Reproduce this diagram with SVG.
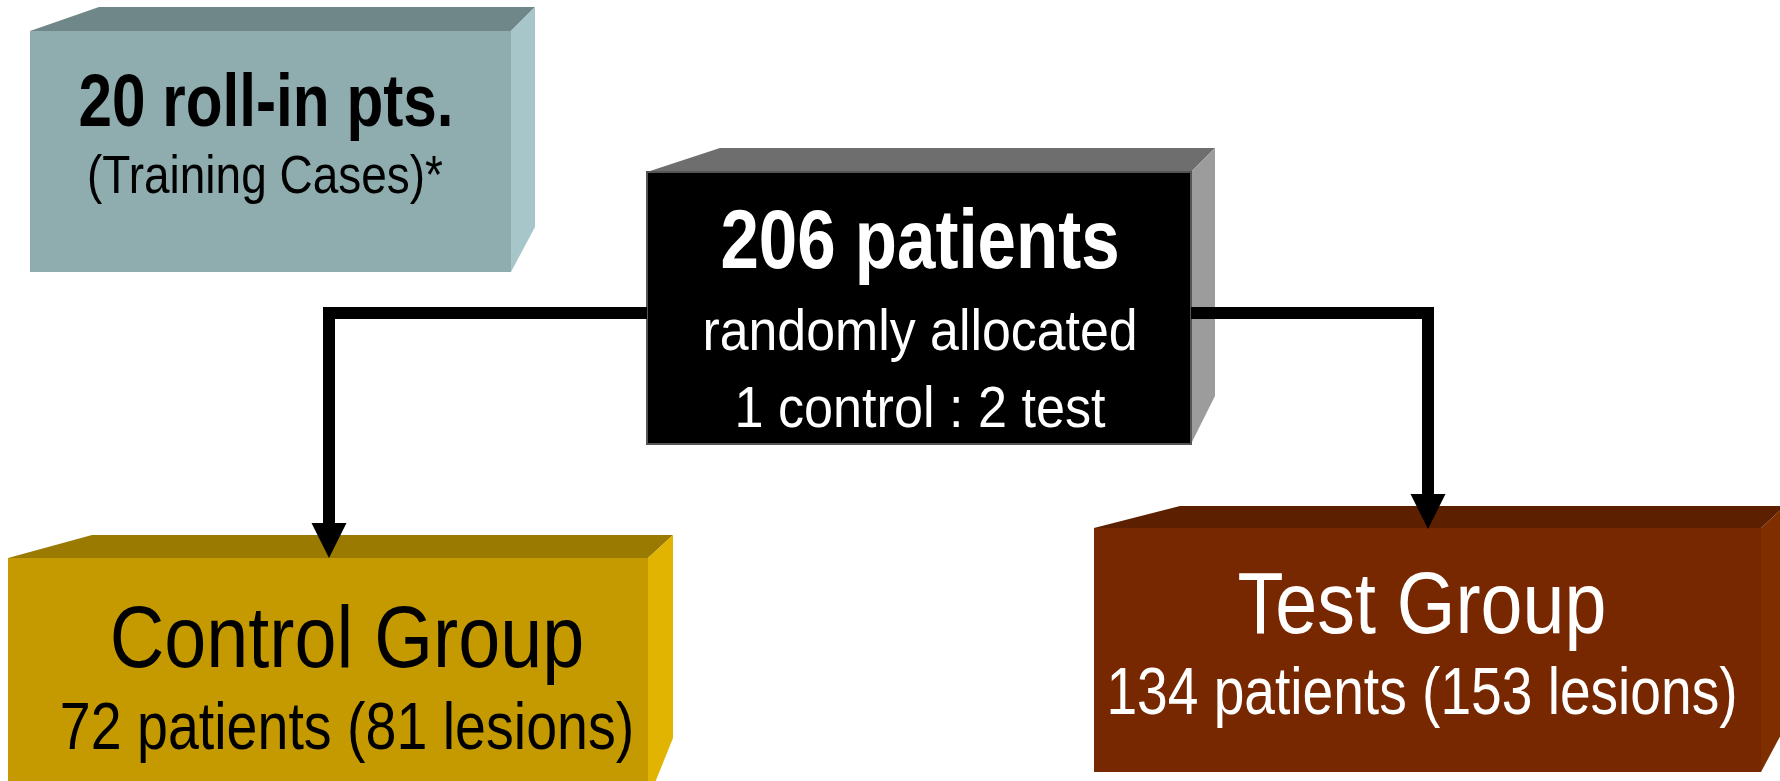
<svg xmlns="http://www.w3.org/2000/svg" width="1780" height="781" viewBox="0 0 1780 781">
<style>
text{font-family:"Liberation Sans",Arial,sans-serif;text-anchor:middle}
.b{font-weight:bold}
.w{fill:#ffffff}
.k{fill:#000000}
.conn{fill:none;stroke:#000;stroke-width:12;stroke-linejoin:miter}
</style>
<defs>
<marker id="ah" markerUnits="userSpaceOnUse" markerWidth="36" markerHeight="36" refX="0" refY="17.5" orient="auto" viewBox="0 0 36 36">
<path d="M0,0 L35,17.5 L0,35 z" fill="#000"/>
</marker>
</defs>
<g id="rollin">
<polygon points="30,31 99,7 535,7 511,31" fill="#708789"/>
<polygon points="511,31 535,7 535,227 511,272" fill="#A6C6C9"/>
<rect x="30" y="31" width="481" height="241" fill="#8FACAE"/>
<text class="b k" transform="translate(266,126) scale(0.8,1)" font-size="74" textLength="469" lengthAdjust="spacingAndGlyphs">20 roll-in pts.</text>
<text class="k" transform="translate(265,193) scale(0.8,1)" font-size="53" textLength="445" lengthAdjust="spacingAndGlyphs">(Training Cases)*</text>
</g>
<g id="patients">
<polygon points="647,172 720,148 1215,148 1191,172" fill="#6E6E6E"/>
<polygon points="1191,172 1215,148 1215,396 1191,444" fill="#9C9C9C"/>
<rect x="647" y="172" width="544" height="272" fill="#000" stroke="#555" stroke-width="2"/>
<text class="b w" transform="translate(920,268) scale(0.8,1)" font-size="84" textLength="499" lengthAdjust="spacingAndGlyphs">206 patients</text>
<text class="w" transform="translate(920,350) scale(0.8,1)" font-size="58" textLength="544" lengthAdjust="spacingAndGlyphs">randomly allocated</text>
<text class="w" transform="translate(920,427) scale(0.8,1)" font-size="58" textLength="464" lengthAdjust="spacingAndGlyphs">1 control : 2 test</text>
</g>
<g id="control">
<polygon points="8,558 92,535 673,535 648,558" fill="#9A7A00"/>
<polygon points="648,558 673,535 673,738 648,800" fill="#E0B400"/>
<rect x="8" y="558" width="640" height="240" fill="#C49A00"/>
<text class="k" transform="translate(347,667) scale(0.8,1)" font-size="88" textLength="593" lengthAdjust="spacingAndGlyphs">Control Group</text>
<text class="k" transform="translate(347,749) scale(0.8,1)" font-size="67" textLength="718" lengthAdjust="spacingAndGlyphs">72 patients (81 lesions)</text>
</g>
<g id="test">
<polygon points="1094,528 1180,506 1785,506 1761,528" fill="#5C1F00"/>
<polygon points="1761,528 1785,506 1785,727 1761,772" fill="#7F2E00"/>
<rect x="1094" y="528" width="667" height="244" fill="#772800"/>
<text class="w" transform="translate(1422,633) scale(0.8,1)" font-size="88" textLength="461" lengthAdjust="spacingAndGlyphs">Test Group</text>
<text class="w" transform="translate(1422,714) scale(0.8,1)" font-size="66" textLength="789" lengthAdjust="spacingAndGlyphs">134 patients (153 lesions)</text>
</g>
<g id="connectors">
<path class="conn" d="M647,313 H329 V523" marker-end="url(#ah)"/>
<path class="conn" d="M1191,313 H1428 V494" marker-end="url(#ah)"/>
</g>
</svg>
